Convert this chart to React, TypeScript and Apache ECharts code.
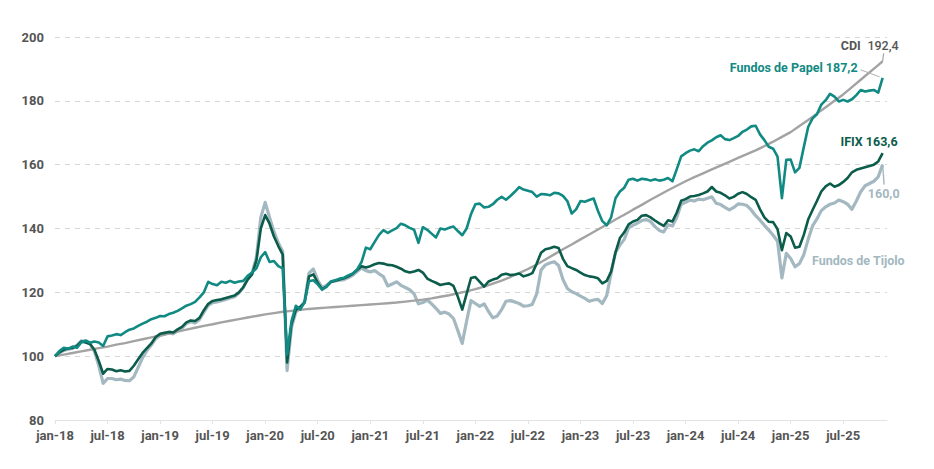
import React, { useEffect, useRef } from "react";
import * as echarts from "echarts";

// Half-month samples starting jan-18 (month index = i * STEP)
const STEP = 0.5;

const fundosPapel = [
  100, 101.6, 102.6, 102.3, 103.0, 102.6, 104.3, 104.9, 104.2, 104.6, 104.3, 103.2, 106.2, 106.5, 106.9, 106.6, 107.5, 108.3, 108.7, 109.5, 110.2, 110.8, 111.6, 112.0,
  112.6, 112.5, 113.2, 113.6, 114.2, 115.0, 115.8, 116.3, 117.0, 118.4, 120.0, 123.3, 122.6, 122.2, 123.3, 123.0, 123.6, 123.0, 123.4, 123.6, 125.2, 126.2, 127.5, 131.0,
  132.6, 129.5, 129.8, 128.2, 127.5, 100.5, 111.0, 115.8, 114.6, 117.0, 123.5, 123.8, 122.5, 120.8, 121.8, 123.4, 123.8, 124.3, 124.6, 125.3, 125.9, 127.2, 129.5, 134.0,
  133.5, 135.8, 138.0, 139.5, 138.6, 139.4, 140.1, 141.5, 141.0, 140.2, 139.6, 135.5, 140.4, 139.6, 138.4, 137.2, 140.0, 139.7, 140.2, 140.6, 139.2, 137.9, 140.0, 144.5,
  147.6, 147.8, 146.6, 146.8, 147.6, 149.0, 149.9, 149.0, 150.2, 151.5, 153.0, 152.2, 151.8, 151.4, 150.0, 150.8, 150.7, 150.4, 151.2, 151.0, 150.2, 148.6, 144.7, 146.0,
  148.6, 148.4, 148.9, 149.4, 145.5, 142.3, 141.0, 143.5, 149.5, 151.6, 152.8, 155.3, 155.6, 155.0, 155.6, 155.4, 155.0, 155.4, 155.0, 155.3, 155.8, 154.8, 158.6, 162.6,
  163.6, 164.4, 164.8, 164.2, 165.8, 166.9, 167.6, 168.6, 169.2, 168.0, 167.7, 168.3, 169.0, 170.3, 171.0, 172.0, 172.2, 169.5, 167.7, 165.6, 165.0, 162.5, 149.5, 161.5,
  161.6, 157.6, 159.0, 165.5, 171.8, 174.5, 175.8, 178.8, 180.2, 182.2, 181.3, 179.8, 180.3, 179.8, 180.5, 181.8, 183.4, 182.9, 183.2, 183.4, 182.6, 187.2,
];

const ifix = [
  100, 101.2, 102.0, 102.4, 102.6, 103.2, 104.6, 104.3, 103.8, 102.0, 98.5, 94.5, 96.0, 95.8, 95.3, 95.6, 95.2, 95.4, 97.0, 99.0, 101.0, 102.5, 104.0, 106.0,
  107.0, 107.3, 107.6, 107.4, 108.4, 109.2, 110.6, 111.2, 111.0, 112.0, 114.4, 116.4, 117.3, 117.6, 117.8, 118.2, 118.6, 119.0, 120.0, 121.6, 124.0, 125.6, 130.0, 140.0,
  144.2, 141.5, 137.5, 134.5, 131.8, 98.0, 110.0, 114.5, 115.5, 116.8, 125.0, 125.6, 123.0, 121.0, 121.8, 123.2, 123.6, 124.0, 124.4, 125.0, 125.8, 127.0, 128.2, 127.8,
  128.2, 128.8, 129.2, 129.0, 128.6, 128.5, 128.0, 127.4, 126.6, 126.2, 126.5, 127.0, 126.2, 124.3, 123.6, 123.0, 122.3, 122.6, 122.8, 122.0, 118.6, 114.6, 119.5, 124.5,
  124.8, 123.3, 121.8, 123.4, 124.0, 124.4, 125.5, 125.8, 125.4, 125.6, 125.9, 125.0, 125.4, 126.0, 129.0, 132.4, 133.5, 133.8, 134.3, 133.9, 130.5, 128.2, 127.6, 127.0,
  126.2, 125.4, 125.0, 124.8, 124.4, 122.8, 123.6, 126.5, 132.5, 137.0, 138.8, 141.3, 142.2, 142.7, 144.0, 144.2, 143.5, 142.5, 141.6, 140.8, 142.6, 142.2, 145.0, 148.7,
  149.2, 150.0, 150.2, 150.5, 151.0, 151.6, 153.0, 151.6, 151.2, 150.4, 149.4, 149.9, 150.9, 151.4, 150.8, 149.8, 149.0, 146.0, 143.5, 142.1, 142.0, 139.8, 133.2, 138.6,
  137.5, 134.0, 134.3, 138.0, 142.8, 145.8, 148.6, 151.6, 153.2, 154.1, 153.1, 153.6, 154.6, 155.8, 157.6, 158.4, 158.8, 159.2, 159.6, 160.0, 161.0, 163.6,
];

const fundosTijolo = [
  100, 101.0, 101.8, 102.2, 102.4, 103.4, 104.8, 104.6, 103.9, 101.5, 97.0, 91.5, 93.0, 93.0, 92.6, 92.8, 92.4, 92.3, 93.5, 96.5, 99.5, 101.8, 103.5, 105.5,
  106.5, 106.8, 107.3, 107.0, 108.0, 108.8, 110.2, 110.8, 110.4, 111.5, 113.8, 115.9, 116.8, 117.0, 117.4, 117.8, 118.2, 118.6, 119.8, 121.5, 124.2, 126.0, 131.0, 143.5,
  148.2, 143.5, 139.0, 135.5, 132.8, 95.5, 109.0, 113.8, 115.0, 117.0, 126.0, 127.3, 123.8, 121.5, 122.2, 123.3, 123.6, 123.8, 124.0, 124.6, 125.4, 126.5, 127.6, 126.8,
  126.4, 126.8, 125.8, 124.9, 122.0, 122.6, 123.3, 122.2, 121.5, 120.8, 119.5, 116.4, 116.8, 117.6, 116.4, 115.0, 113.4, 113.8, 113.2, 111.8, 108.0, 104.0, 111.0, 117.4,
  116.5, 115.6, 116.4, 114.0, 112.0, 112.6, 114.6, 117.2, 117.4, 117.0, 116.5, 115.7, 115.8, 116.2, 119.5, 127.0, 128.6, 129.2, 129.6, 128.4, 124.0, 121.2, 120.2, 119.6,
  118.8, 118.1, 117.2, 117.6, 117.8, 116.5, 119.0, 126.0, 132.5, 134.8, 136.6, 140.2, 141.0, 141.7, 142.5, 142.8, 142.2, 140.6, 139.4, 138.9, 141.2, 140.8, 143.5, 147.6,
  148.2, 148.9, 148.6, 149.2, 149.0, 149.5, 149.9, 147.9, 147.5, 146.6, 145.8, 146.6, 147.7, 147.6, 147.2, 145.8, 144.0, 142.6, 141.0, 139.5, 137.9, 136.0, 124.5, 132.2,
  130.6, 128.0, 129.0, 131.8, 136.6, 140.8, 143.0, 145.6, 146.8, 147.6, 148.0, 148.9, 148.4, 147.6, 146.0, 148.6, 151.5, 153.4, 154.1, 154.8, 156.2, 160.0,
];

// CDI: monthly samples from jan-18, plus the final observation
const cdiMonthly = [
  100.0, 100.5, 101.0, 101.5, 102.0, 102.5, 103.0, 103.6, 104.1, 104.7, 105.3, 105.9,
  106.5, 107.1, 107.7, 108.3, 108.9, 109.5, 110.0, 110.6, 111.1, 111.6, 112.1, 112.6,
  113.1, 113.5, 113.9, 114.2, 114.5, 114.8, 115.0, 115.2, 115.4, 115.6, 115.8, 116.0,
  116.2, 116.4, 116.6, 116.8, 117.1, 117.4, 117.7, 118.1, 118.6, 119.1, 119.7, 120.3,
  121.0, 121.8, 122.7, 123.7, 124.8, 126.0, 127.3, 128.7, 130.3, 131.9, 133.5, 135.0,
  136.6, 138.1, 139.7, 141.2, 142.8, 144.3, 145.9, 147.4, 149.0, 150.5, 152.0, 153.4,
  154.8, 156.1, 157.3, 158.5, 159.7, 160.9, 162.1, 163.3, 164.5, 165.8, 167.2, 168.7,
  170.2, 172.1, 174.0, 176.0, 178.0, 180.0, 182.0, 184.3, 186.6, 188.9, 191.2,
];
const cdiFinal = 192.4;

const tickLabels = [
  "jan-18", "jul-18", "jan-19", "jul-19", "jan-20", "jul-20", "jan-21", "jul-21",
  "jan-22", "jul-22", "jan-23", "jul-23", "jan-24", "jul-24", "jan-25", "jul-25",
];
const TICK_EVERY = 6; // months
const AXIS_MAX = 95;

const C_PAPEL = "#108a83";
const C_IFIX = "#0b5c4b";
const C_TIJOLO = "#a3b8c0";
const C_CDI = "#a3a3a3";
const C_TEXT = "#555555";
const FONT = "Roboto";
const LABEL_FONT = `bold 12.5px ${FONT}`;

const fmt = (v: number) => v.toFixed(1).replace(".", ",");

export default function App() {
  const ref = useRef<HTMLDivElement>(null);

  useEffect(() => {
    if (!ref.current) return;
    const chart = echarts.init(ref.current, null, { renderer: "svg" });
    const half = (arr: number[]) => arr.map((v, i) => [i * STEP, v]);
    const lastM = (fundosPapel.length - 1) * STEP;
    const cdiData = cdiMonthly.map((v, i) => [i, v]).concat([[lastM, cdiFinal]]);
    const tickValues = tickLabels.map((_, i) => i * TICK_EVERY);

    const lineSeries = (name: string, data: number[][], color: string, width: number) => ({
      name,
      type: "line",
      data,
      showSymbol: false,
      symbol: "none",
      lineStyle: { color, width, join: "round" },
      emphasis: { disabled: true },
    });

    chart.setOption({
      animation: false,
      backgroundColor: "#ffffff",
      grid: { left: 55, right: 47, top: 37, bottom: 49, containLabel: false },
      xAxis: {
        type: "value",
        min: 0,
        max: AXIS_MAX,
        axisLine: { show: true, lineStyle: { color: "#e3e3e3", width: 1 } },
        axisTick: {
          show: true,
          length: 4,
          customValues: tickValues,
          lineStyle: { color: "#e3e3e3" },
        },
        axisLabel: {
          customValues: tickValues,
          formatter: (v: number) => tickLabels[Math.round(v / TICK_EVERY)] ?? "",
          color: C_TEXT,
          fontFamily: FONT,
          fontSize: 13,
          fontWeight: "bold",
          margin: 9,
        },
        splitLine: { show: false },
      },
      yAxis: {
        type: "value",
        min: 80,
        max: 200,
        interval: 20,
        axisLine: { show: false },
        axisTick: { show: false },
        axisLabel: {
          color: C_TEXT,
          fontFamily: FONT,
          fontSize: 13,
          fontWeight: "bold",
          margin: 11,
        },
        splitLine: { show: true, lineStyle: { color: "#d6d6d6", type: [5, 5], width: 1 } },
      },
      series: [
        lineSeries("Fundos de Tijolo", half(fundosTijolo), C_TIJOLO, 3.2),
        lineSeries("CDI", cdiData, C_CDI, 2.4),
        lineSeries("IFIX", half(ifix), C_IFIX, 2.6),
        lineSeries("Fundos de Papel", half(fundosPapel), C_PAPEL, 2.6),
      ],
    });

    const px = (m: number, v: number) => chart.convertToPixel({ gridIndex: 0 }, [m, v]) as number[];
    const pCdi = px(lastM, cdiFinal);
    const vPapel = fundosPapel[fundosPapel.length - 1];
    const vIfix = ifix[ifix.length - 1];
    const vTij = fundosTijolo[fundosTijolo.length - 1];
    const pPapel = px(lastM, vPapel);
    const pIfix = px(lastM, vIfix);
    const pTij = px(lastM, vTij);

    const txt = (x: number, y: number, text: string, fill: string) => ({
      type: "text",
      x,
      y,
      z: 100,
      style: {
        text,
        fill,
        font: LABEL_FONT,
        align: "right",
        verticalAlign: "middle",
      },
    });
    const seg = (x1: number, y1: number, x2: number, y2: number, stroke: string, w = 1) => ({
      type: "line",
      z: 90,
      shape: { x1, y1, x2, y2 },
      style: { stroke, lineWidth: w },
    });

    chart.setOption({
      graphic: [
        seg(pCdi[0], pCdi[1], pCdi[0] + 1, pCdi[1] - 8, C_CDI, 1.2),
        {
          type: "text",
          x: pCdi[0] + 16,
          y: pCdi[1] - 16,
          z: 100,
          style: {
            text: `{a|CDI}  {b|${fmt(cdiFinal)}}`,
            align: "right",
            verticalAlign: "middle",
            rich: {
              a: { fill: C_TEXT, font: LABEL_FONT },
              b: { fill: C_TEXT, font: `500 12.5px ${FONT}` },
            },
          },
        },
        seg(pPapel[0] - 22, pPapel[1] - 8, pPapel[0] - 3, pPapel[1] - 1, "#b0b0b0", 1),
        txt(pPapel[0] - 25, pPapel[1] - 10, `Fundos de Papel ${fmt(vPapel)}`, C_PAPEL),
        txt(pIfix[0] + 15, pIfix[1] - 12, `IFIX ${fmt(vIfix)}`, C_IFIX),
        seg(pTij[0], pTij[1], pTij[0] + 1.5, pTij[1] + 20, C_TIJOLO, 1.4),
        txt(pTij[0] + 17, pTij[1] + 29, fmt(vTij), C_TIJOLO),
        txt(pTij[0] + 22, pTij[1] + 96, "Fundos de Tijolo", C_TIJOLO),
      ],
    });

    return () => chart.dispose();
  }, []);

  return (
    <div
      ref={ref}
      style={{ position: "absolute", left: 0, top: 0, width: 934, height: 469, background: "#fff" }}
    />
  );
}
